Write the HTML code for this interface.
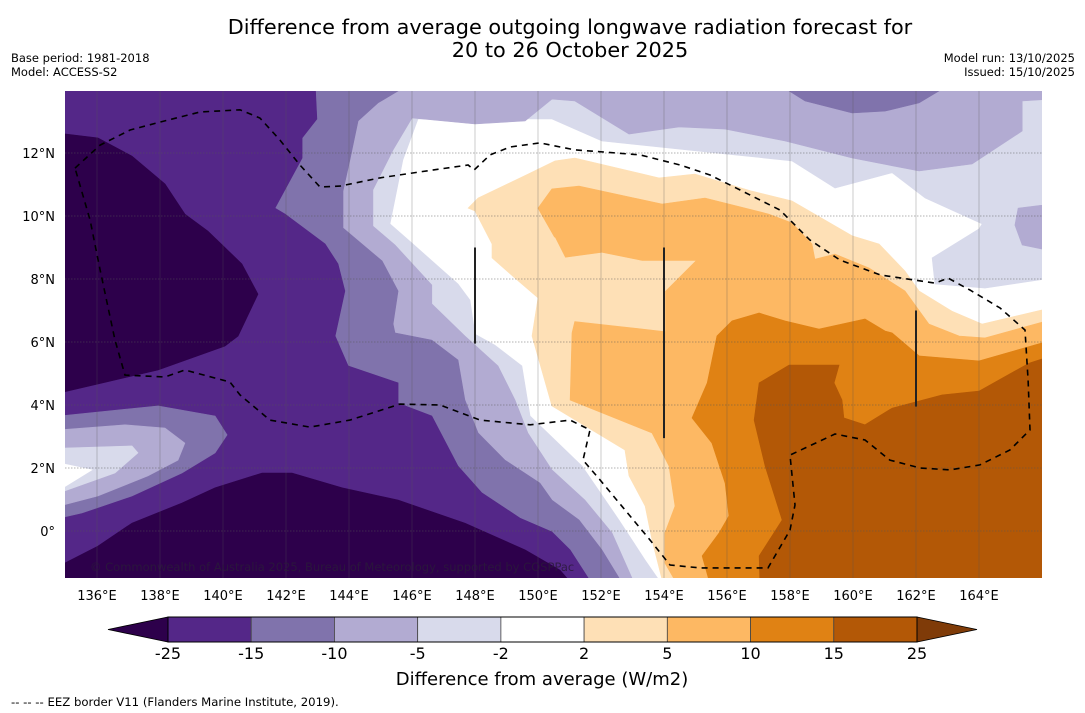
<!DOCTYPE html>
<html><head><meta charset="utf-8"><style>
body{margin:0;background:#fff;}
svg{display:block;font-family:"DejaVu Sans","Liberation Sans",sans-serif;}
</style></head><body>
<svg id="chart" width="1085" height="713" viewBox="0 0 1085 713" xmlns="http://www.w3.org/2000/svg">
<defs><clipPath id="mapclip"><rect x="65" y="91" width="977" height="487"/></clipPath></defs>
<text x="570" y="34" text-anchor="middle" font-size="20.8">Difference from average outgoing longwave radiation forecast for</text>
<text x="570" y="57" text-anchor="middle" font-size="20.8">20 to 26 October 2025</text>
<text x="11" y="62" font-size="11.5">Base period: 1981-2018</text>
<text x="11" y="76" font-size="11.5">Model: ACCESS-S2</text>
<text x="1075" y="62" font-size="11.5" text-anchor="end">Model run: 13/10/2025</text>
<text x="1075" y="76" font-size="11.5" text-anchor="end">Issued: 15/10/2025</text>
<g id="map" clip-path="url(#mapclip)"><rect x="65" y="91" width="977" height="487" fill="#ffffff"/></g>
<g id="grid"></g>
<g id="over" clip-path="url(#mapclip)"></g>
<g id="xticks"></g>
<g id="yticks"></g>
<g id="cbar"></g>
<text x="542" y="685" text-anchor="middle" font-size="18">Difference from average (W/m2)</text>
<text x="11" y="706" font-size="11.7">--  --  -- EEZ border V11 (Flanders Marine Institute, 2019).</text>
</svg>
<script>
const lonTicks=[136,138,140,142,144,146,148,150,152,154,156,158,160,162,164];
const latTicks=[0,2,4,6,8,10,12];
const cbarLevels=[-25,-15,-10,-5,-2,2,5,10,15,25];
const cbarColors=["#542788","#8073ac","#b2abd2","#d8daeb","#ffffff","#fee0b6","#fdb863","#e08214","#b35806"];
const lowColor="#2d004b", highColor="#7f3b08";
const regionLevels=["le-2","le-5","le-5","le-10","le-10","le-15","blob-10","blob-5","blob-2","blob-0","le-25","le-25","ge2","ge5","ge2-pocket","ge10","ge15"];
const regionColors=["#d8daeb","#b2abd2","#b2abd2","#8073ac","#8073ac","#542788","#8073ac","#b2abd2","#d8daeb","#ffffff","#2d004b","#2d004b","#fee0b6","#fdb863","#fee0b6","#e08214","#b35806"];
const regionLe2=[[134.8,-1.9],[134.8,14.3],[166.3,14.3],[166.3,8.03],[164.19,7.71],[162.6,7.84],[162.51,8.67],[164.0,9.59],[164.1,9.75],[162.29,10.57],[161.24,11.37],[159.43,10.89],[158.06,11.75],[155.94,11.97],[152.03,12.38],[150.44,13.08],[146.19,13.08],[145.71,11.78],[145.3,9.75],[146.0,9.14],[147.46,7.84],[147.84,7.33],[148.0,6.25],[148.63,5.9],[149.49,5.24],[149.75,3.65],[150.54,2.89],[151.4,2.06],[152.57,0.35],[153.4,-0.92],[153.84,-1.56],[153.94,-1.9]];
const regionLe5=[[134.8,14.3],[166.3,14.3],[166.3,13.71],[165.37,13.65],[165.37,12.7],[163.78,11.65],[162.1,11.43],[159.97,11.84],[157.84,12.38],[155.94,12.76],[154.48,12.83],[152.89,12.6],[151.17,13.65],[150.44,13.71],[149.59,13.02],[148.0,12.92],[146.0,13.11],[145.4,12.1],[144.76,10.83],[144.76,9.68],[145.46,9.08],[146.63,7.81],[146.63,7.21],[147.68,6.19],[148.73,5.24],[149.27,4.16],[149.68,3.11],[150.44,1.94],[151.49,0.98],[152.35,-0.06],[152.98,-1.49],[153.08,-1.9],[134.8,-1.9]];
const regionLe5b=[[166.3,10.38],[165.24,10.25],[165.14,9.71],[165.37,9.08],[166.3,8.89]];
const regionLe10=[[134.8,14.3],[145.56,14.3],[145.56,13.97],[144.92,13.59],[144.29,13.02],[144.03,11.78],[143.81,10.79],[143.81,9.62],[145.05,8.57],[145.56,7.62],[145.4,6.57],[145.46,6.29],[146.63,6.06],[147.46,5.43],[147.68,4.16],[148.1,3.11],[148.95,2.25],[150.06,1.52],[150.44,0.98],[151.3,0.35],[152.03,-0.6],[152.57,-1.49],[152.67,-1.9],[134.8,-1.9]];
const regionLe10b=[[157.97,14.3],[157.97,13.97],[158.48,13.65],[159.97,13.27],[161.02,13.33],[162.1,13.59],[162.73,13.97],[162.73,14.3]];
const regionLe15=[[134.8,14.3],[142.92,14.3],[142.98,13.08],[142.51,12.48],[142.51,11.84],[141.65,10.25],[141.97,10.06],[143.24,9.11],[143.65,8.48],[143.87,7.62],[143.56,6.19],[143.97,5.24],[145.56,4.7],[145.56,4.06],[146.63,3.65],[147.46,2.06],[148.22,1.21],[149.43,0.41],[150.44,-0.03],[151.02,-0.6],[151.59,-1.49],[151.71,-1.9],[134.8,-1.9]];
const blob10=[[134.8,3.65],[137.94,3.97],[139.75,3.65],[140.13,3.05],[139.75,2.48],[138.7,1.84],[137.11,1.11],[135.52,0.57],[134.8,0.41]];
const blob5=[[134.8,3.21],[136.89,3.37],[138.16,3.27],[138.79,2.79],[138.57,2.25],[137.62,1.75],[136.03,1.11],[134.8,0.79]];
const blob2=[[134.8,2.63],[137.11,2.7],[137.3,2.48],[136.57,1.84],[134.8,1.21]];
const blob0=[[134.8,2.16],[135.84,1.94],[134.8,1.3]];
const regionLe25a=[[134.8,12.63],[136.03,12.48],[137.11,11.9],[138.16,11.02],[138.79,10.06],[139.52,9.52],[140.6,8.48],[141.11,7.52],[140.48,6.19],[140.06,5.87],[137.94,5.11],[134.8,4.38]];
const regionLe25b=[[134.8,-1.11],[136.03,-0.48],[137.11,0.25],[138.7,0.89],[139.75,1.37],[141.24,1.84],[142.19,1.84],[143.78,1.37],[145.56,0.98],[147.68,0.25],[149.59,-0.6],[150.7,-1.24],[151.27,-1.9],[134.8,-1.9]];
const regionGe2=[[147.78,10.25],[148.1,10.57],[149.68,11.33],[150.54,11.75],[151.17,11.84],[153.84,11.21],[154.98,11.33],[156.79,10.79],[158.06,10.48],[159.97,9.37],[160.83,9.11],[161.65,8.25],[162.1,7.62],[163.14,6.98],[164.1,6.57],[166.0,7.02],[166.3,7.17],[166.3,-1.9],[154.03,-1.9],[153.62,-0.29],[153.4,0.79],[152.89,1.75],[152.76,2.57],[150.44,3.97],[149.81,6.19],[150.0,7.4],[149.27,8.03],[148.54,8.67],[148.54,9.11],[148.0,10.16]];
const regionGe5=[[150.44,10.86],[151.3,10.95],[153.94,10.38],[155.3,10.57],[157.33,10.06],[158.06,9.78],[158.7,9.11],[158.79,8.63],[159.43,8.79],[160.51,8.35],[161.65,7.62],[162.41,6.57],[163.37,6.19],[164.19,6.13],[166.0,6.63],[166.3,6.7],[166.3,-1.9],[154.54,-1.9],[154.03,-1.02],[154.03,-0.06],[154.35,0.79],[154.16,2.06],[153.62,3.11],[152.03,3.75],[151.02,4.16],[151.08,6.29],[151.17,6.67],[152.6,6.51],[154.03,6.35],[154.03,7.62],[154.98,8.57],[153.3,8.57],[152.03,8.83],[150.86,8.67],[150.54,9.3],[150.0,10.25]];
const regionGe2Pocket=[[151.17,6.67],[152.6,6.51],[154.03,6.35],[154.03,7.62],[154.98,8.57],[153.3,8.57],[152.03,8.83],[150.86,8.67],[150.54,9.3],[150.0,9.6],[149.81,8.0],[150.2,7.0]];
const regionGe10=[[155.68,6.19],[156.16,6.67],[157.02,6.92],[157.84,6.67],[158.92,6.41],[160.38,6.73],[161.02,6.35],[161.24,6.29],[162.1,5.56],[164.0,5.4],[166.0,5.97],[166.3,6.06],[166.3,-1.9],[155.52,-1.9],[155.21,-0.79],[155.75,-0.06],[156.06,0.48],[155.94,1.52],[155.52,2.79],[154.89,3.59],[155.37,4.7]];
const regionGe15=[[157.02,4.7],[157.97,5.27],[159.56,5.27],[159.4,4.7],[159.65,4.16],[159.71,3.59],[160.38,3.37],[161.24,3.9],[162.83,4.32],[164.0,4.44],[165.59,5.33],[166.3,5.56],[166.3,-1.9],[157.05,-1.9],[157.02,-0.79],[157.75,0.35],[157.21,2.06],[156.86,3.52]];
const eezLine=[[135.3,11.52],[136.1,12.25],[137.05,12.73],[138.0,12.98],[139.27,13.3],[140.54,13.37],[141.17,13.11],[141.81,12.41],[142.44,11.62],[143.08,10.92],[143.71,10.95],[144.98,11.21],[146.25,11.4],[147.78,11.62],[147.97,11.46],[148.48,11.94],[149.11,12.19],[150.06,12.32],[151.17,12.1],[152.13,12.03],[153.24,11.94],[154.51,11.62],[155.46,11.3],[156.41,10.83],[157.68,10.19],[158.63,9.24],[159.59,8.6],[160.86,8.13],[162.6,7.87],[163.02,8.03],[163.71,7.65],[164.67,7.08],[165.46,6.38],[165.56,4.79],[165.62,3.21],[164.98,2.57],[164.03,2.1],[163.08,1.94],[162.13,2.0],[161.17,2.25],[160.38,2.89],[159.43,3.08],[158.0,2.41],[158.16,0.83],[158.0,0.03],[157.3,-1.17],[155.14,-1.17],[154.19,-1.08],[153.56,-0.29],[151.97,1.62],[151.43,2.25],[151.65,3.21],[151.02,3.52],[149.75,3.37],[148.16,3.52],[146.89,4.0],[145.62,4.03],[144.03,3.52],[142.76,3.3],[141.49,3.52],[140.54,4.32],[140.22,4.73],[138.79,5.11],[138.16,4.89],[136.89,4.95],[136.57,6.06],[136.1,8.29],[135.78,9.87],[135.3,11.52]];
const eezSegments=[[[148,9],[148,5.95]],[[154,9],[154,2.95]],[[162,7],[162,3.95]]];

const NS="http://www.w3.org/2000/svg";
function xS(lon){return 97+(lon-136)*31.5;}
function yS(lat){return 531-lat*31.5;}
function pts(arr){return arr.map(p=>xS(p[0]).toFixed(1)+","+yS(p[1]).toFixed(1)).join(" ");}
function mk(tag,attrs,parent){const e=document.createElementNS(NS,tag);for(const k in attrs)e.setAttribute(k,attrs[k]);parent.appendChild(e);return e;}

const regions=[regionLe2,regionLe5,regionLe5b,regionLe10,regionLe10b,regionLe15,blob10,blob5,blob2,blob0,regionLe25a,regionLe25b,regionGe2,regionGe5,regionGe2Pocket,regionGe10,regionGe15];
const map=document.getElementById('map');
regions.forEach((r,i)=>{
  const p=mk('polygon',{points:pts(r),fill:regionColors[i],stroke:regionColors[i],'stroke-width':'0.6'},map);
  
  
});

const grid=document.getElementById('grid');
lonTicks.forEach(l=>{
  const g=mk('line',{x1:xS(l),x2:xS(l),y1:91,y2:578,stroke:'#555','stroke-width':'0.6','stroke-opacity':'0.5'},grid);
  
  
});
latTicks.forEach(l=>{
  const g=mk('line',{x1:65,x2:1042,y1:yS(l),y2:yS(l),stroke:'#555','stroke-width':'0.8','stroke-dasharray':'1.5,1.5','stroke-opacity':'0.6'},grid);
  
  
});

const over=document.getElementById('over');
const eez=mk('polyline',{points:pts(eezLine),fill:'none',stroke:'#000','stroke-width':'1.6','stroke-dasharray':'6,5'},over);


eezSegments.forEach((s,i)=>{
  const l=mk('line',{x1:xS(s[0][0]),y1:yS(s[0][1]),x2:xS(s[1][0]),y2:yS(s[1][1]),stroke:'#222','stroke-width':'2'},over);
  
  
});
const cr=mk('text',{x:90,y:571,'font-size':'11.5',fill:'#2a1a3a','fill-opacity':'0.85'},over);
cr.textContent="© Commonwealth of Australia 2025, Bureau of Meteorology, supported by COSPPac";



const xt=document.getElementById('xticks');
lonTicks.forEach(l=>{
  const t=mk('text',{x:xS(l),y:600,'text-anchor':'middle','font-size':'13'},xt);
  t.textContent=l+"°E";
  
  
});
const yt=document.getElementById('yticks');
latTicks.forEach(l=>{
  const t=mk('text',{x:55,y:yS(l)+5,'text-anchor':'end','font-size':'13'},yt);
  t.textContent=l===0?"0°":l+"°N";
  
  
});

const cb=document.getElementById('cbar');
const cx0=168,cx1=917,cy0=617,cy1=642,cw=(cx1-cx0)/cbarColors.length;
const lt=mk('polygon',{points:`${cx0},${cy0} ${cx0},${cy1} 108,${(cy0+cy1)/2}`,fill:lowColor,stroke:'#000','stroke-width':'0.8'},cb);


const rt=mk('polygon',{points:`${cx1},${cy0} ${cx1},${cy1} 977,${(cy0+cy1)/2}`,fill:highColor,stroke:'#000','stroke-width':'0.8'},cb);


cbarColors.forEach((c,i)=>{
  const r=mk('rect',{x:cx0+i*cw,y:cy0,width:cw,height:cy1-cy0,fill:c,stroke:'#444','stroke-width':'0.8'},cb);
  
  
});
mk('rect',{x:cx0,y:cy0,width:cx1-cx0,height:cy1-cy0,fill:'none',stroke:'#000','stroke-width':'1'},cb);
cbarLevels.forEach((v,i)=>{
  const t=mk('text',{x:cx0+i*cw,y:659,'text-anchor':'middle','font-size':'16'},cb);
  t.textContent=String(v);
  
  
});
</script>
</body></html>
